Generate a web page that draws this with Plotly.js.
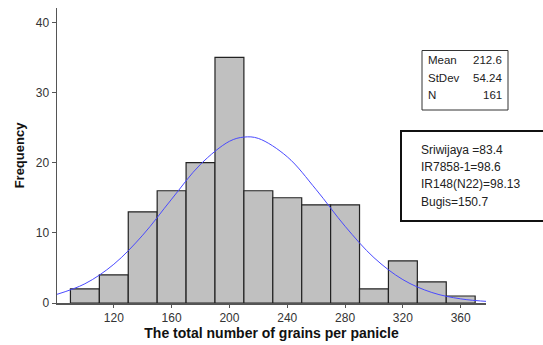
<!DOCTYPE html>
<html>
<head>
<meta charset="utf-8">
<script src="https://cdn.plot.ly/plotly-3.0.1.min.js"></script>
<style>html,body{margin:0;padding:0;background:#fff;}#chart{width:543px;height:345px;}</style>
</head>
<body>
<div id="chart"></div>
<script>
// Histogram bins (centre of each 20-wide bin) and frequencies
var binCenters = [100, 120, 140, 160, 180, 200, 220, 240, 260, 280, 300, 320, 340, 360];
var frequencies = [2, 4, 13, 16, 20, 35, 16, 15, 14, 14, 2, 6, 3, 1];

// Fitted normal curve
var curveX = [80, 100, 120, 140, 160, 180, 200, 210, 220, 240, 260, 280, 300, 320, 340, 360, 380];
var curveY = [1.19, 2.74, 5.52, 9.67, 14.8, 19.77, 23.05, 23.65, 23.46, 20.84, 16.16, 10.94, 6.46, 3.33, 1.5, 0.59, 0.2];

var xTicks = [120, 160, 200, 240, 280, 320, 360];
var yTicks = [0, 10, 20, 30, 40];

var statLabels = ["Mean", "StDev", "N"];
var statValues = ["212.6", "54.24", "161"];
var varietyLines = ["Sriwijaya =83.4", "IR7858-1=98.6", "IR148(N22)=98.13", "Bugis=150.7"];

var L = 57, R = 57, T = 8, B = 42, W = 543, H = 345;
var pw = W - L - R, ph = H - T - B;
function px(x) { return (x - L) / pw; }
function py(y) { return (H - B - y) / ph; }

var font = "Liberation Sans, Arial, sans-serif";

var traces = [
  {
    type: "bar", x: binCenters, y: frequencies, width: 20,
    marker: { color: "#c0c0c0", line: { color: "#222", width: 1.2 } },
    hoverinfo: "skip"
  },
  {
    type: "scatter", mode: "lines", x: curveX, y: curveY,
    line: { color: "#4a4aff", width: 1, shape: "spline", smoothing: 1 },
    hoverinfo: "skip"
  }
];

var annotations = [];
var statY = [60, 77.7, 95];
for (var i = 0; i < statLabels.length; i++) {
  annotations.push({ xref: "paper", yref: "paper", x: px(425.5), y: py(statY[i]), xanchor: "left", yanchor: "middle",
    text: statLabels[i], showarrow: false, font: { family: font, size: 11.5, color: "#222" } });
  annotations.push({ xref: "paper", yref: "paper", x: px(504), y: py(statY[i]), xanchor: "right", yanchor: "middle",
    text: statValues[i], showarrow: false, font: { family: font, size: 11.5, color: "#222" } });
}
var varY = [150, 166.7, 184.3, 201.7];
for (var j = 0; j < varietyLines.length; j++) {
  annotations.push({ xref: "paper", yref: "paper", x: px(418.5), y: py(varY[j]), xanchor: "left", yanchor: "middle",
    text: varietyLines[j], showarrow: false, font: { family: font, size: 12, color: "#222" } });
}

var shapes = [
  { type: "rect", xref: "paper", yref: "paper", x0: px(422), x1: px(508), y0: py(110), y1: py(50.5),
    line: { color: "#333", width: 1 }, fillcolor: "rgba(0,0,0,0)" },
  { type: "rect", xref: "paper", yref: "paper", x0: px(401), x1: px(560), y0: py(221), y1: py(131),
    line: { color: "#111", width: 2 }, fillcolor: "rgba(0,0,0,0)" }
];

var layout = {
  width: W, height: H,
  margin: { l: L, r: R, t: T, b: B, pad: 0 },
  paper_bgcolor: "#fff", plot_bgcolor: "#fff",
  showlegend: false, bargap: 0,
  font: { family: font, color: "#333" },
  xaxis: {
    range: [80.7, 377.5], tickvals: xTicks, ticktext: xTicks.map(String),
    showgrid: false, zeroline: false, showline: true, linecolor: "#555", linewidth: 1.5,
    ticks: "outside", ticklen: 3, tickcolor: "#555", tickwidth: 1,
    tickfont: { family: font, size: 12, color: "#333" },
    title: { text: "<b>The total number of grains per panicle</b>", font: { family: font, size: 14, color: "#111" }, standoff: 3 }
  },
  yaxis: {
    range: [0, 42.05], tickvals: yTicks, ticktext: yTicks.map(String),
    showgrid: false, zeroline: false, showline: true, linecolor: "#555", linewidth: 1.5,
    ticks: "outside", ticklen: 4, tickcolor: "#555", tickwidth: 1,
    tickfont: { family: font, size: 12, color: "#333" },
    title: { text: "<b>Frequency</b>", font: { family: font, size: 13, color: "#111" }, standoff: 8 }
  },
  annotations: annotations,
  shapes: shapes
};

Plotly.newPlot("chart", traces, layout, { staticPlot: true, displayModeBar: false });
</script>
</body>
</html>
